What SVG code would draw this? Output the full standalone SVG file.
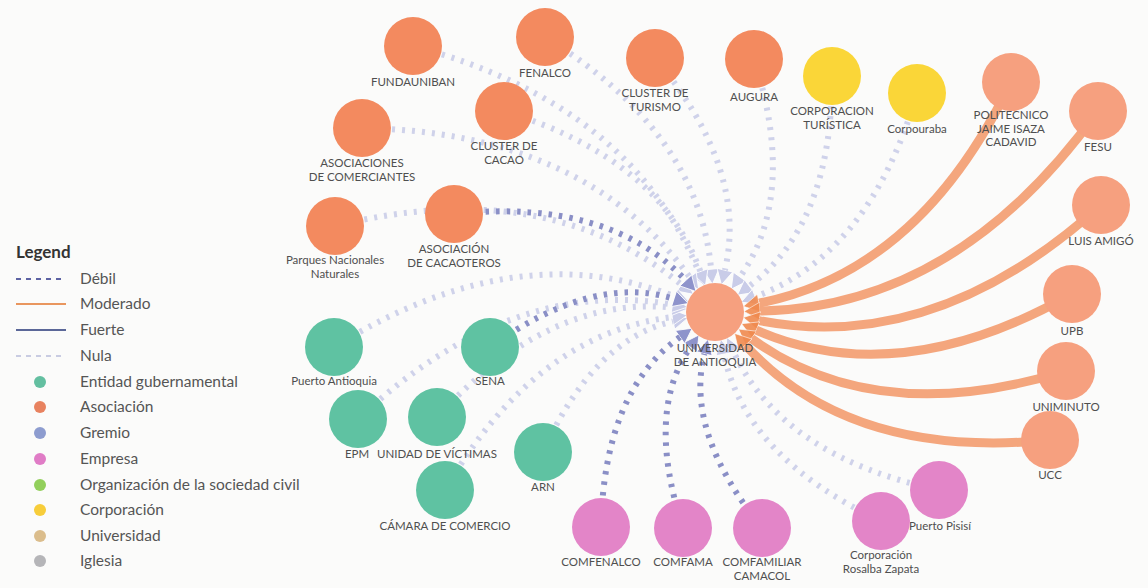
<svg xmlns="http://www.w3.org/2000/svg" width="1148" height="588" viewBox="0 0 1148 588">
  <defs>
    <style>
      .lbl { font-family: Lato, "Open Sans", "Liberation Sans", sans-serif; font-size: 11.5px; fill: #4f4f4f; text-anchor: middle; }
      .leg { font-family: Lato, "Open Sans", "Liberation Sans", sans-serif; font-size: 15.5px; fill: #555555; }
      .legt { font-family: Lato, "Open Sans", "Liberation Sans", sans-serif; font-size: 17px; font-weight: bold; fill: #333333; }
      .aso { fill: #f38a5f; }
      .uni { fill: #f6a07f; }
      .gov { fill: #5fc2a2; }
      .emp { fill: #e385c8; }
      .cor { fill: #fad638; }
      .nula { fill: none; stroke: #cfd2ea; stroke-width: 6; stroke-dasharray: 3 7; marker-end: url(#arrN); }
      .debil { fill: none; stroke: #8a8fc6; stroke-width: 6; stroke-dasharray: 3.5 7; marker-end: url(#arrD); }
      .mod { fill: none; stroke: #f4a67d; stroke-width: 9; marker-end: url(#arrM); }
    </style>
    <marker id="arrN" markerUnits="userSpaceOnUse" markerWidth="16" markerHeight="18" viewBox="0 -9 16 18" refX="0" refY="0" orient="auto">
      <path d="M0,-8 L15,0 L0,8 z" fill="#c9cce8" stroke="#ffffff" stroke-width="0.8"/>
    </marker>
    <marker id="arrD" markerUnits="userSpaceOnUse" markerWidth="16" markerHeight="18" viewBox="0 -9 16 18" refX="0" refY="0" orient="auto">
      <path d="M0,-8 L15,0 L0,8 z" fill="#8e93cb" stroke="#ffffff" stroke-width="0.8"/>
    </marker>
    <marker id="arrM" markerUnits="userSpaceOnUse" markerWidth="17" markerHeight="20" viewBox="0 -10 17 20" refX="0" refY="0" orient="auto">
      <path d="M0,-9 L16,0 L0,9 z" fill="#f08a4f" stroke="#ffffff" stroke-width="0.6" opacity="0.9"/>
    </marker>
  </defs>

  <rect width="1148" height="588" fill="#fbfbfa"/>

  <!-- connectors: every partner points to the university -->
  <g id="connectors">
    <!-- nula -->
    <path class="nula" d="M413,46 Q630.5,103.5 698.9,272.2"/>
    <path class="nula" d="M545,37 Q698.8,132 711.1,269.2"/>
    <path class="nula" d="M504,111 Q659.8,158.8 700.4,271.5"/>
    <path class="nula" d="M362,128 Q584.5,131.8 689.8,277.2"/>
    <path class="nula" d="M335,226 Q546.5,174 681.7,284.8"/>
    <path class="nula" d="M655,58 Q748.5,170 724.9,270.2"/>
    <path class="nula" d="M754,59 Q797.8,195.3 739.9,276.9"/>
    <path class="nula" d="M832,76 Q832.5,223.3 749.3,286.1"/>
    <path class="nula" d="M917,93 Q870.8,253 755.2,296.8"/>
    <path class="nula" d="M939,490 Q782.5,457 733.1,351"/>
    <path class="nula" d="M881,521 Q745.8,458 723.9,354.1"/>
    <path class="nula" d="M543,452 Q594,339 673,321.4"/>
    <path class="nula" d="M445,490 Q535.5,333.5 672.3,317.1"/>
    <path class="nula" d="M437,417 Q549.8,295 672.2,307.6"/>
    <path class="nula" d="M358,419 Q509.8,276.3 672.6,304.6"/>
    <path class="nula" d="M334,347 Q515.8,234.3 674.9,296.4"/>
    <!-- debil -->
    <path class="debil" d="M454,214 Q609,197.8 685.8,280.5"/>
    <path class="debil" d="M490,347 Q593.8,273.3 674,298.9"/>
    <path class="debil" d="M762,528 Q684.5,431.8 704.4,353.7"/>
    <path class="debil" d="M683,528 Q645,412 690.4,347.2"/>
    <path class="debil" d="M601,527 Q604.3,391 680,337"/>
    <!-- moderado -->
    <path class="mod" d="M1011,82 Q920.5,271 759.1,303.2"/>
    <path class="mod" d="M1098,111 Q956.8,307.3 760,311.1"/>
    <path class="mod" d="M1101,205 Q934.8,355 759.1,320.6"/>
    <path class="mod" d="M1072,294 Q898,392.3 756.2,330.1"/>
    <path class="mod" d="M1066,371 Q875.8,429.3 751.4,338.5"/>
    <path class="mod" d="M1050,440 Q850.5,459.8 745.4,345.2"/>
  </g>

  <!-- asociaciones -->
  <g id="n-fundauniban"><circle class="aso" cx="413" cy="46" r="29"/><text class="lbl" x="413" y="86">FUNDAUNIBAN</text></g>
  <g id="n-fenalco"><circle class="aso" cx="545" cy="37" r="29"/><text class="lbl" x="545" y="77">FENALCO</text></g>
  <g id="n-cluster-cacao"><circle class="aso" cx="504" cy="111" r="29"/><text class="lbl" x="504" y="150">CLUSTER DE</text><text class="lbl" x="504" y="163.5">CACAO</text></g>
  <g id="n-asociaciones-comerciantes"><circle class="aso" cx="362" cy="128" r="29"/><text class="lbl" x="362" y="167">ASOCIACIONES</text><text class="lbl" x="362" y="180.5">DE COMERCIANTES</text></g>
  <g id="n-parques"><circle class="aso" cx="335" cy="226" r="29"/><text class="lbl" x="335" y="264">Parques Nacionales</text><text class="lbl" x="335" y="277.5">Naturales</text></g>
  <g id="n-cacaoteros"><circle class="aso" cx="454" cy="214" r="29"/><text class="lbl" x="454" y="253">ASOCIACIÓN</text><text class="lbl" x="454" y="266.5">DE CACAOTEROS</text></g>
  <g id="n-cluster-turismo"><circle class="aso" cx="655" cy="58" r="29"/><text class="lbl" x="655" y="97">CLUSTER DE</text><text class="lbl" x="655" y="110.5">TURISMO</text></g>
  <g id="n-augura"><circle class="aso" cx="754" cy="59" r="29"/><text class="lbl" x="754" y="101">AUGURA</text></g>

  <!-- corporaciones -->
  <g id="n-corporacion-turistica"><circle class="cor" cx="832" cy="76" r="29"/><text class="lbl" x="832" y="115">CORPORACION</text><text class="lbl" x="832" y="128.5">TURÍSTICA</text></g>
  <g id="n-corpouraba"><circle class="cor" cx="917" cy="93" r="29"/><text class="lbl" x="917" y="133">Corpouraba</text></g>

  <!-- universidades -->
  <g id="n-politecnico"><circle class="uni" cx="1011" cy="82" r="29"/><text class="lbl" x="1011" y="119">POLITECNICO</text><text class="lbl" x="1011" y="132.5">JAIME ISAZA</text><text class="lbl" x="1011" y="146">CADAVID</text></g>
  <g id="n-fesu"><circle class="uni" cx="1098" cy="111" r="29"/><text class="lbl" x="1098" y="151">FESU</text></g>
  <g id="n-luis-amigo"><circle class="uni" cx="1101" cy="205" r="29"/><text class="lbl" x="1101" y="245">LUIS AMIGÓ</text></g>
  <g id="n-upb"><circle class="uni" cx="1072" cy="294" r="29"/><text class="lbl" x="1072" y="335">UPB</text></g>
  <g id="n-uniminuto"><circle class="uni" cx="1066" cy="371" r="29"/><text class="lbl" x="1066" y="411">UNIMINUTO</text></g>
  <g id="n-ucc"><circle class="uni" cx="1050" cy="440" r="29"/><text class="lbl" x="1050" y="479">UCC</text></g>
  <g id="n-udea"><circle class="uni" cx="715" cy="312" r="29"/><text class="lbl" x="715" y="352">UNIVERSIDAD</text><text class="lbl" x="715" y="365.5">DE ANTIOQUIA</text></g>

  <!-- empresas -->
  <g id="n-puerto-pisisi"><circle class="emp" cx="939" cy="490" r="29"/><text class="lbl" x="940" y="530">Puerto Pisisí</text></g>
  <g id="n-rosalba"><circle class="emp" cx="881" cy="521" r="29"/><text class="lbl" x="881" y="559">Corporación</text><text class="lbl" x="881" y="572.5">Rosalba Zapata</text></g>
  <g id="n-comfamiliar"><circle class="emp" cx="762" cy="528" r="29"/><text class="lbl" x="762" y="566">COMFAMILIAR</text><text class="lbl" x="762" y="579.5">CAMACOL</text></g>
  <g id="n-comfama"><circle class="emp" cx="683" cy="528" r="29"/><text class="lbl" x="683" y="566">COMFAMA</text></g>
  <g id="n-comfenalco"><circle class="emp" cx="601" cy="527" r="29"/><text class="lbl" x="601" y="566">COMFENALCO</text></g>

  <!-- entidades gubernamentales -->
  <g id="n-arn"><circle class="gov" cx="543" cy="452" r="29"/><text class="lbl" x="543" y="491">ARN</text></g>
  <g id="n-camara"><circle class="gov" cx="445" cy="490" r="29"/><text class="lbl" x="445" y="530">CÁMARA DE COMERCIO</text></g>
  <g id="n-unidad-victimas"><circle class="gov" cx="437" cy="417" r="29"/><text class="lbl" x="437" y="458">UNIDAD DE VÍCTIMAS</text></g>
  <g id="n-epm"><circle class="gov" cx="358" cy="419" r="29"/><text class="lbl" x="357" y="458">EPM</text></g>
  <g id="n-puerto-antioquia"><circle class="gov" cx="334" cy="347" r="29"/><text class="lbl" x="334" y="385">Puerto Antioquia</text></g>
  <g id="n-sena"><circle class="gov" cx="490" cy="347" r="29"/><text class="lbl" x="490" y="385">SENA</text></g>

  <!-- legend -->
  <g id="legend">
    <text class="legt" x="16" y="258">Legend</text>
    <line x1="16" y1="279" x2="66" y2="279" stroke="#5d63a3" stroke-width="2" stroke-dasharray="5 5"/>
    <text class="leg" x="80" y="284">Débil</text>
    <line x1="16" y1="304" x2="66" y2="304" stroke="#e9965e" stroke-width="2"/>
    <text class="leg" x="80" y="309">Moderado</text>
    <line x1="16" y1="330" x2="66" y2="330" stroke="#5b6798" stroke-width="2"/>
    <text class="leg" x="80" y="335">Fuerte</text>
    <line x1="16" y1="356" x2="66" y2="356" stroke="#c9cce2" stroke-width="2" stroke-dasharray="5 5"/>
    <text class="leg" x="80" y="361">Nula</text>
    <circle cx="40" cy="382" r="6" fill="#63bfa0"/>
    <text class="leg" x="80" y="387">Entidad gubernamental</text>
    <circle cx="40" cy="407" r="6" fill="#e8825f"/>
    <text class="leg" x="80" y="412">Asociación</text>
    <circle cx="40" cy="433" r="6" fill="#8d9ccf"/>
    <text class="leg" x="80" y="438">Gremio</text>
    <circle cx="40" cy="459" r="6" fill="#e07cc6"/>
    <text class="leg" x="80" y="464">Empresa</text>
    <circle cx="40" cy="485" r="6" fill="#92cf5b"/>
    <text class="leg" x="80" y="490">Organización de la sociedad civil</text>
    <circle cx="40" cy="510" r="6" fill="#f7cd3a"/>
    <text class="leg" x="80" y="515">Corporación</text>
    <circle cx="40" cy="536" r="6" fill="#dbbd8c"/>
    <text class="leg" x="80" y="541">Universidad</text>
    <circle cx="40" cy="561" r="6" fill="#b5b5b8"/>
    <text class="leg" x="80" y="566">Iglesia</text>
  </g>
</svg>
